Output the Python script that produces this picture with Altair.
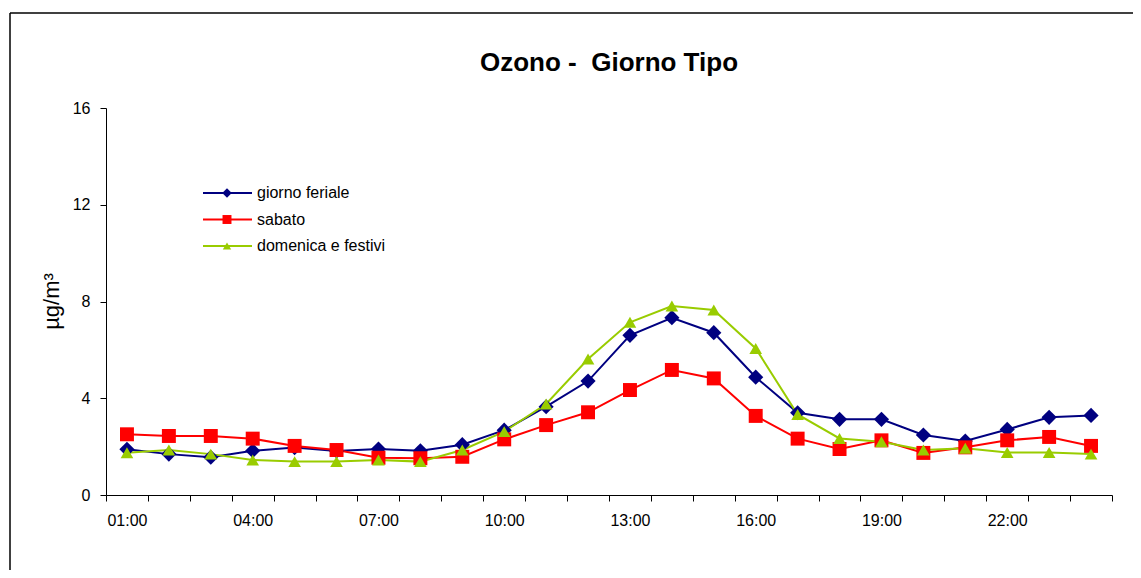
import altair as alt
import pandas as pd

hours = ["01:00", "02:00", "03:00", "04:00", "05:00", "06:00", "07:00", "08:00",
         "09:00", "10:00", "11:00", "12:00", "13:00", "14:00", "15:00", "16:00",
         "17:00", "18:00", "19:00", "20:00", "21:00", "22:00", "23:00", "24:00"]
shown_labels = ["01:00", "04:00", "07:00", "10:00", "13:00", "16:00", "19:00", "22:00"]

feriale = [1.89, 1.69, 1.56, 1.83, 1.96, 1.82, 1.90, 1.83, 2.08, 2.68, 3.65, 4.71,
           6.60, 7.33, 6.71, 4.87, 3.40, 3.13, 3.13, 2.48, 2.23, 2.71, 3.21, 3.29]
sabato = [2.51, 2.44, 2.44, 2.33, 2.03, 1.86, 1.54, 1.52, 1.58, 2.30, 2.89, 3.42,
          4.34, 5.17, 4.82, 3.27, 2.33, 1.90, 2.26, 1.74, 1.97, 2.26, 2.40, 2.03]
domenica = [1.75, 1.86, 1.69, 1.45, 1.38, 1.38, 1.45, 1.38, 1.86, 2.62, 3.76, 5.62,
            7.14, 7.81, 7.65, 6.06, 3.33, 2.34, 2.20, 1.86, 1.93, 1.76, 1.76, 1.69]

series_names = ["giorno feriale", "sabato", "domenica e festivi"]
colors = ["#000080", "#FF0000", "#99CC00"]
shapes = ["diamond", "square", "triangle-up"]
marker_sizes = [230, 160, 330]
y_ticks = [0, 4, 8, 12, 16]

rows = []
for name, vals in zip(series_names, [feriale, sabato, domenica]):
    for h, v in zip(hours, vals):
        rows.append({"ora": h, "valore": v, "serie": name})
df = pd.DataFrame(rows)
legend_df = pd.DataFrame({"serie": series_names, "pos": list(range(len(series_names)))})

FONT = "Liberation Sans"
color_scale = alt.Scale(domain=series_names, range=colors)
shape_scale = alt.Scale(domain=series_names, range=shapes)

label_expr = "indexof([" + ",".join("'%s'" % s for s in shown_labels) + "], datum.value) >= 0 ? datum.value : ''"

x_enc = alt.X("ora:N", sort=hours, bandPosition=0.5,
              scale=alt.Scale(type="band", paddingInner=0, paddingOuter=0),
              axis=alt.Axis(title=None, labelAngle=0, tickBand="extent", labelExpr=label_expr,
                            tickSize=6, labelPadding=11, labelFontSize=16, labelFont=FONT,
                            labelColor="black", domainColor="black", tickColor="black",
                            grid=False, labelOverlap=False))

y_main = alt.Y("valore:Q", scale=alt.Scale(domain=[0, 16]),
               axis=alt.Axis(values=y_ticks, title="µg/m³", grid=False, tickSize=6,
                             labelPadding=10, labelFontSize=16, labelFont=FONT,
                             labelColor="black", domainColor="black", tickColor="black",
                             titleFont=FONT, titleFontSize=22, titleFontWeight="normal",
                             titleColor="black", titleX=-48, titleY=193, titleBaseline="alphabetic",
                             titleAngle=270))
y_plain = alt.Y("valore:Q", scale=alt.Scale(domain=[0, 16]), axis=None)

lines = alt.Chart(df).mark_line(strokeWidth=2).encode(
    x=x_enc, y=y_main,
    color=alt.Color("serie:N", scale=color_scale, legend=None),
    detail="serie:N",
)
points = alt.Chart(df).mark_point(filled=True, opacity=1).encode(
    x=x_enc, y=y_plain,
    color=alt.Color("serie:N", scale=color_scale, legend=None),
    shape=alt.Shape("serie:N", scale=shape_scale, legend=None),
    size=alt.Size("serie:N", scale=alt.Scale(domain=series_names, range=marker_sizes), legend=None),
)

leg_y = alt.Y("pos:Q", scale=alt.Scale(domain=[0, 2], range=[85, 138]), axis=None)
leg_line = alt.Chart(legend_df).mark_rule(strokeWidth=2).encode(
    x=alt.value(97), x2=alt.value(146), y=leg_y,
    color=alt.Color("serie:N", scale=color_scale, legend=None),
)
leg_pt = alt.Chart(legend_df).mark_point(filled=True, opacity=1).encode(
    x=alt.value(121), y=leg_y,
    color=alt.Color("serie:N", scale=color_scale, legend=None),
    shape=alt.Shape("serie:N", scale=shape_scale, legend=None),
    size=alt.Size("serie:N", scale=alt.Scale(domain=series_names, range=[90, 70, 110]), legend=None),
)
leg_txt = alt.Chart(legend_df).mark_text(align="left", baseline="middle", font=FONT,
                                          fontSize=16, color="black").encode(
    x=alt.value(151), y=leg_y, text="serie:N",
)

frame_df = pd.DataFrame({"k": [0]})
frame_left = alt.Chart(frame_df).mark_rule(strokeWidth=1.5, color="black").encode(
    x=alt.value(-96), y=alt.value(-95), y2=alt.value(470))
frame_top = alt.Chart(frame_df).mark_rule(strokeWidth=1.5, color="black").encode(
    x=alt.value(-96), x2=alt.value(1040), y=alt.value(-95))

chart = alt.layer(frame_left, frame_top, lines, points, leg_line, leg_pt, leg_txt).resolve_scale(
    y="independent", size="independent"
).properties(
    width=1006, height=387,
    autosize=alt.AutoSizeParams(type="none"),
    padding={"left": 98, "top": 100, "right": 21, "bottom": 75},
    title=alt.TitleParams("Ozono -\u00a0 Giorno Tipo", fontSize=26, fontWeight="bold", font=FONT,
                          color="black", anchor="middle", frame="group", offset=0, dy=85,
                          baseline="alphabetic"),
    background="white",
).configure_view(stroke=None)

chart.save("out.html", embed_options={"renderer": "svg", "actions": False})
